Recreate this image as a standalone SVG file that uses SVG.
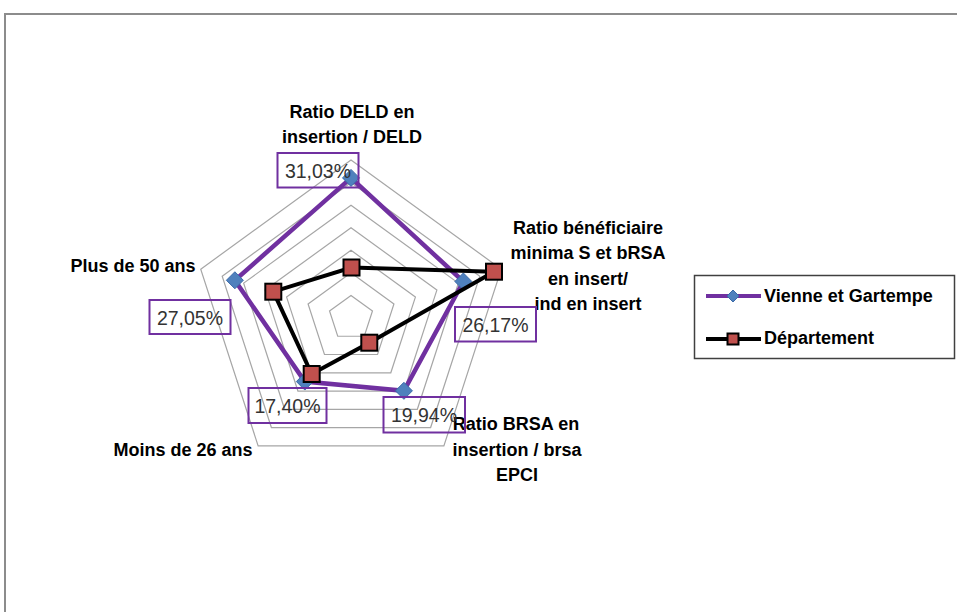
<svg xmlns="http://www.w3.org/2000/svg" xmlns:xlink="http://www.w3.org/1999/xlink" width="957" height="612" viewBox="0 0 957 612">
<style>
.ring{fill:none;stroke:#A6A6A6;stroke-width:1.2}
.vline{fill:none;stroke:#7030A0;stroke-width:4.5;stroke-linejoin:miter}
.dline{fill:none;stroke:#000;stroke-width:4;stroke-linejoin:miter}
.dia{fill:#4F81BD;stroke:#3A6AA8;stroke-width:1}
.sq{fill:#C0504D;stroke:#000;stroke-width:2}
.lbox{fill:none;stroke:#7030A0;stroke-width:2}
.ltxt{font-family:"Liberation Sans",Arial,sans-serif;font-size:19.5px;fill:#333;text-anchor:middle}
.axis{font-family:"Liberation Sans",Arial,sans-serif;font-size:18px;font-weight:bold;fill:#000;text-anchor:middle}
.leg{font-family:"Liberation Sans",Arial,sans-serif;font-size:18px;font-weight:bold;fill:#000}
</style>
<defs>
<path id="dia" class="dia" d="M0,-8.5 L8.5,0 L0,8.5 L-8.5,0Z"/>
<rect id="sq" class="sq" x="-8" y="-8" width="16" height="16"/>
</defs>
<rect x="0" y="0" width="957" height="612" fill="#fff"/>
<path d="M5,612 V14 H957" fill="none" stroke="#8C8C8C" stroke-width="2"/>

<g id="grid">
<polygon class="ring" points="351,295.43 372.47,311.03 364.27,336.26 337.73,336.26 329.53,311.03"/>
<polygon class="ring" points="351,272.86 393.93,304.05 377.53,354.52 324.47,354.52 308.07,304.05"/>
<polygon class="ring" points="351,250.29 415.40,297.08 390.80,372.78 311.20,372.78 286.60,297.08"/>
<polygon class="ring" points="351,227.71 436.87,290.10 404.07,391.04 297.93,391.04 265.13,290.10"/>
<polygon class="ring" points="351,205.14 458.34,283.13 417.34,409.30 284.66,409.30 243.66,283.13"/>
<polygon class="ring" points="351,182.57 479.81,276.15 430.61,427.56 271.39,427.56 222.19,276.15"/>
<polygon class="ring" points="351,160 501.27,269.18 443.87,445.82 258.13,445.82 200.73,269.18"/>
</g>

<g id="axis-labels">
<text class="axis" x="352" y="118">Ratio DELD en</text>
<text class="axis" x="352" y="143">insertion / DELD</text>
<text class="axis" x="588" y="234">Ratio bénéficiaire</text>
<text class="axis" x="588" y="259">minima S et bRSA</text>
<text class="axis" x="588" y="285">en insert/</text>
<text class="axis" x="588" y="310">ind en insert</text>
<text class="axis" x="516" y="430">Ratio BRSA en</text>
<text class="axis" x="517" y="456">insertion / brsa</text>
<text class="axis" x="517" y="481">EPCI</text>
<text class="axis" x="183" y="456">Moins de 26 ans</text>
<text class="axis" x="133" y="272">Plus de 50 ans</text>
</g>

<g id="series-vienne">
<polygon class="vline" points="351,177.92 463.36,281.49 403.91,390.82 304.83,381.55 234.86,280.27"/>
<use xlink:href="#dia" x="351" y="177.92"/>
<use xlink:href="#dia" x="463.36" y="281.49"/>
<use xlink:href="#dia" x="403.91" y="390.82"/>
<use xlink:href="#dia" x="304.83" y="381.55"/>
<use xlink:href="#dia" x="234.86" y="280.27"/>
</g>

<g id="series-departement">
<polygon class="dline" points="351.5,267.5 494,271.7 369.3,342.7 311.7,374 273.3,291.7"/>
<use xlink:href="#sq" x="351.5" y="267.5"/>
<use xlink:href="#sq" x="494" y="271.7"/>
<use xlink:href="#sq" x="369.3" y="342.7"/>
<use xlink:href="#sq" x="311.7" y="374"/>
<use xlink:href="#sq" x="273.3" y="291.7"/>
</g>

<g id="data-labels">
<rect class="lbox" x="277.5" y="153" width="81" height="34.5"/>
<text class="ltxt" x="318" y="177.5">31,03%</text>
<rect class="lbox" x="455" y="307" width="81" height="34.5"/>
<text class="ltxt" x="495.5" y="331.5">26,17%</text>
<rect class="lbox" x="383.5" y="397" width="81.5" height="35.5"/>
<text class="ltxt" x="424" y="422">19,94%</text>
<rect class="lbox" x="248.5" y="388" width="78" height="35"/>
<text class="ltxt" x="287.5" y="412.5">17,40%</text>
<rect class="lbox" x="149.5" y="300" width="81" height="34"/>
<text class="ltxt" x="190" y="324.5">27,05%</text>
</g>

<g id="legend">
<rect x="694.5" y="275.5" width="260" height="83" fill="#fff" stroke="#404040" stroke-width="1.5"/>
<line x1="706" y1="296" x2="761" y2="296" stroke="#7030A0" stroke-width="4"/>
<path class="dia" d="M733,290 L739,296 L733,302 L727,296Z"/>
<text class="leg" x="764" y="302">Vienne et Gartempe</text>
<line x1="706" y1="339" x2="761" y2="339" stroke="#000" stroke-width="4"/>
<rect class="sq" x="727.5" y="333.5" width="11" height="11" stroke-width="1.5"/>
<text class="leg" x="764" y="343.5">Département</text>
</g>
</svg>
